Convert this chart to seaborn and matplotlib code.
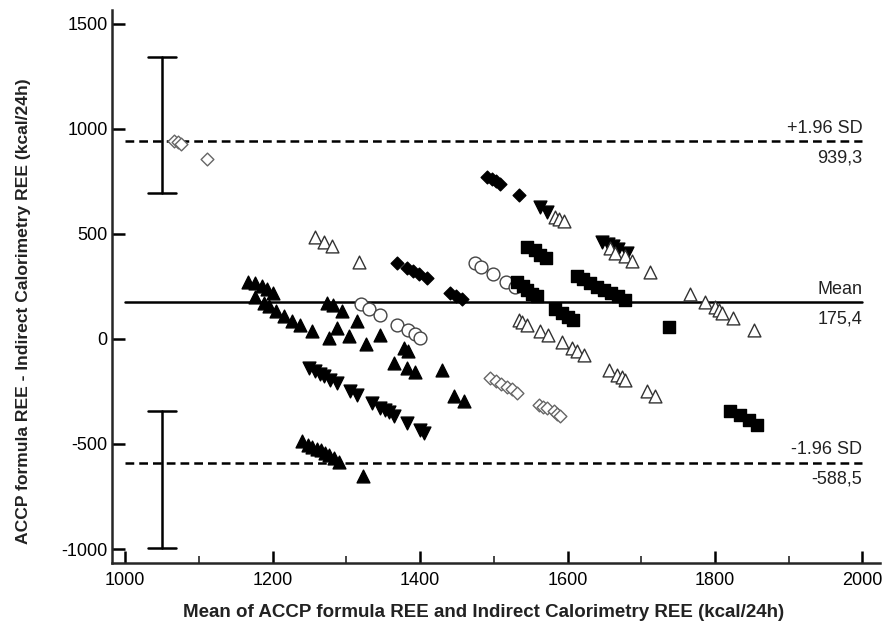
import matplotlib
matplotlib.use("Agg")
import matplotlib.pyplot as plt
import seaborn as sns
import pandas as pd

sns.set_style("ticks")
plt.rcParams['font.family'] = ['Liberation Sans Narrow', 'Liberation Sans', 'DejaVu Sans']
plt.rcParams['axes.unicode_minus'] = False

# Bland-Altman data: mean of the two methods (x) vs difference (y), per patient group
tri_up_x = [1167, 1176, 1185, 1192, 1201, 1176, 1188, 1195, 1204, 1215, 1226, 1237, 1253,
            1274, 1282, 1294, 1314, 1287, 1276, 1303, 1326, 1346, 1378, 1384, 1364, 1382,
            1393, 1430, 1446, 1459,
            1240, 1248, 1253, 1260, 1265, 1271, 1277, 1283, 1290, 1323]
tri_up_y = [272, 264, 250, 236, 218, 201, 170, 154, 132, 108, 84, 67, 36,
            172, 160, 130, 86, 51, 3, 15, -26, 19, -44, -60, -114, -140,
            -160, -150, -272, -298,
            -488, -505, -514, -522, -530, -545, -555, -567, -588, -654]

tri_down_x = [1249, 1258, 1264, 1269, 1278, 1287, 1305, 1314, 1335, 1346, 1352, 1358, 1364,
              1382, 1400, 1405, 1563, 1572, 1647, 1655, 1662, 1669, 1681]
tri_down_y = [-139, -155, -167, -179, -195, -211, -250, -266, -306, -328, -340, -350, -366,
              -401, -433, -450, 625, 605, 462, 450, 440, 428, 410]

open_tri_x = [1258, 1269, 1280, 1317, 1583, 1589, 1595, 1658, 1665, 1678, 1688, 1712,
              1534, 1538, 1545, 1563, 1574, 1592, 1606, 1613, 1622,
              1656, 1667, 1674, 1678, 1708, 1719,
              1766, 1787, 1800, 1805, 1810, 1825, 1853]
open_tri_y = [486, 462, 442, 367, 578, 570, 562, 432, 410, 395, 372, 318,
              90, 80, 67, 35, 19, -13, -44, -60, -76,
              -147, -171, -182, -195, -250, -274,
              214, 177, 150, 138, 122, 98, 43]

open_dia_x = [1066, 1071, 1076, 1111, 1495, 1503, 1510, 1518, 1525, 1532,
              1561, 1567, 1572, 1581, 1586, 1590]
open_dia_y = [940, 935, 928, 854, -187, -200, -215, -227, -240, -258,
              -314, -322, -330, -345, -357, -369]

dia_x = [1491, 1497, 1503, 1509, 1534, 1369, 1382, 1390, 1398, 1409, 1441, 1449, 1457]
dia_y = [770, 760, 750, 735, 684, 362, 336, 322, 308, 288, 217, 205, 190]

circ_x = [1320, 1330, 1346, 1369, 1384, 1393, 1400, 1475, 1482, 1499, 1516, 1529]
circ_y = [168, 140, 114, 67, 43, 22, 5, 360, 340, 306, 272, 247]

sq_x = [1545, 1556, 1563, 1571, 1532, 1539, 1545, 1552, 1559, 1583, 1593, 1601, 1608,
        1613, 1621, 1631, 1640, 1650, 1659, 1668, 1678, 1737, 1821, 1834, 1846, 1857]
sq_y = [437, 423, 400, 385, 270, 250, 230, 212, 204, 143, 124, 105, 90,
        299, 285, 266, 247, 233, 219, 204, 185, 58, -345, -361, -385, -409]

# Agreement statistics
mean_diff = 175.4
upper_loa = 939.3
lower_loa = -588.5
# confidence intervals of the limits of agreement
upper_ci = [695, 1340]
lower_ci = [-995, -345]
ci_x = 1050

fig = plt.figure(figsize=(8.89, 6.28), dpi=100)
ax = fig.add_axes([0.126, 0.104, 0.864, 0.88])

series = [
    (tri_up_x, tri_up_y, '^', 'black', 'black', 85),
    (tri_down_x, tri_down_y, 'v', 'black', 'black', 85),
    (open_tri_x, open_tri_y, '^', 'white', '#333333', 85),
    (open_dia_x, open_dia_y, 'D', 'white', '#666666', 42),
    (dia_x, dia_y, 'D', 'black', 'black', 42),
    (circ_x, circ_y, 'o', 'white', '#444444', 85),
    (sq_x, sq_y, 's', 'black', 'black', 70),
]
for xs, ys, mk, fc, ec, s in series:
    df = pd.DataFrame({'x': xs, 'y': ys})
    sns.scatterplot(data=df, x='x', y='y', marker=mk, s=s, facecolor=fc,
                    edgecolor=ec, linewidth=1.0, ax=ax, zorder=3)

# Mean and limits of agreement
ax.plot([1000, 2000], [mean_diff, mean_diff], color='black', lw=1.8, zorder=2)
for v in (upper_loa, lower_loa):
    ax.plot([1000, 2000], [v, v], color='black', lw=1.8, ls=(0, (3.5, 2)), zorder=2)

for ci in (upper_ci, lower_ci):
    ax.plot([ci_x, ci_x], ci, color='black', lw=1.8, zorder=2)
    for v in ci:
        ax.plot([ci_x - 19, ci_x + 19], [v, v], color='black', lw=1.8, zorder=2)

txt = dict(ha='right', fontsize=13, color='#222222',
           family=['Liberation Sans', 'DejaVu Sans'])
ax.text(2000, upper_loa + 20, '+1.96 SD', va='bottom', **txt)
ax.text(2000, upper_loa - 40, f'{upper_loa:.1f}'.replace('.', ','), va='top', **txt)
ax.text(2000, mean_diff + 20, 'Mean', va='bottom', **txt)
ax.text(2000, mean_diff - 40, f'{mean_diff:.1f}'.replace('.', ','), va='top', **txt)
ax.text(2000, lower_loa + 20, '-1.96 SD', va='bottom', **txt)
ax.text(2000, lower_loa - 40, f'{lower_loa:.1f}'.replace('.', ','), va='top', **txt)

ax.set_xlim(982, 2024)
ax.set_ylim(-1065, 1564)
ax.set_xticks([1000, 1200, 1400, 1600, 1800, 2000])
ax.set_xticks([1100, 1300, 1500, 1700, 1900], minor=True)
ax.set_yticks([-1000, -500, 0, 500, 1000, 1500])
ax.tick_params(axis='both', which='major', direction='in', length=9, width=1.8,
               labelsize=13, colors='black')
ax.tick_params(axis='x', which='minor', direction='in', length=5, width=1.2)
ax.tick_params(axis='x', pad=7)
ax.tick_params(axis='y', pad=3)

for side in ('top', 'right'):
    ax.spines[side].set_visible(False)
for side in ('left', 'bottom'):
    ax.spines[side].set_linewidth(1.8)

ax.set_xlabel('Mean of ACCP formula REE and Indirect Calorimetry REE (kcal/24h)',
              fontsize=13.5, fontweight='bold', color='#222222')
ax.set_ylabel('ACCP formula REE - Indirect Calorimetry REE (kcal/24h)',
              fontsize=12.6, fontweight='bold', color='#222222',
              family=['Liberation Sans', 'DejaVu Sans'])
ax.xaxis.set_label_coords(0.484, -0.075)
ax.yaxis.set_label_coords(-0.105, 0.455)

fig.savefig('out.png', dpi=100)
